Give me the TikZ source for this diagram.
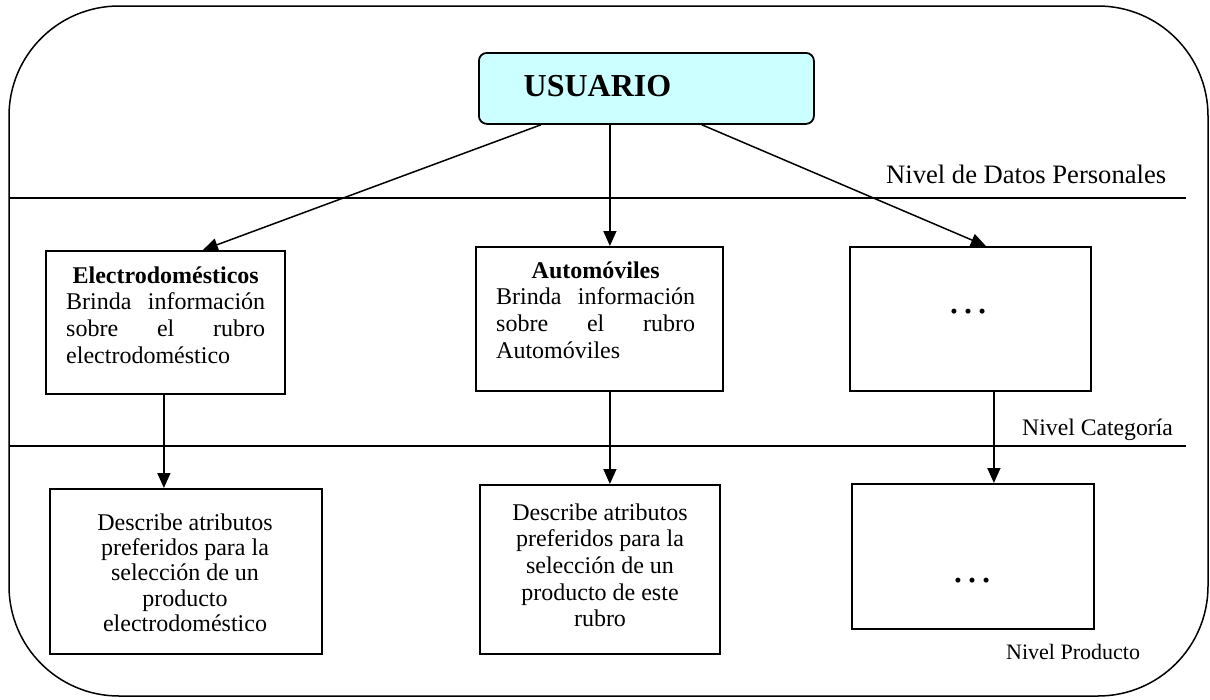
\documentclass[tikz,border=0pt]{standalone}
\usepackage{fontspec}
\setmainfont{Liberation Serif}
\usetikzlibrary{arrows.meta,calc}
\definecolor{usrcyan}{HTML}{CCFFFF}
\newcommand\jline[1]{\hbox to\hsize{#1}}
\newcommand\ctrln[1]{\hbox to\hsize{\hfil#1\hfil}}
\begin{document}
\begin{tikzpicture}[x=1pt,y=-1pt,
  box/.style={draw,line width=1.8pt,inner sep=0pt,anchor=north west},
  txt/.style={inner sep=0pt},
  arr/.style={line width=1.5pt,-{Triangle[length=15pt,width=13pt]}},
  lvl/.style={line width=1.5pt}]
\useasboundingbox (0,0) rectangle (1210,699);
% outer frame
\draw[line width=1.5pt,rounded corners=110pt] (9,6) rectangle (1208,696);
% level lines
\draw[lvl] (9,198) -- (1186,198);
\draw[lvl] (9,446) -- (1186,446);
% level labels
\node[txt,anchor=base west,font=\fontsize{26.6}{28}\selectfont] (lv1) at (886,183) {Nivel de Datos Personales};
\node[txt,anchor=base west,font=\fontsize{23.7}{26}\selectfont] (lv2) at (1022,435) {Nivel Categoría};
\node[txt,anchor=base west,font=\fontsize{22}{24}\selectfont] (lv3) at (1006,659) {Nivel Producto};
% usuario
\node[box,fill=usrcyan,rounded corners=8pt,minimum width=335pt,minimum height=71pt] (usr) at (478,52) {};
\node[txt,anchor=base,font=\fontsize{32}{34}\selectfont\bfseries] (usrt) at (597.5,96) {USUARIO};
% category boxes
\node[box,minimum width=239pt,minimum height=143pt] (e1) at (45,250) {};
\node[box,minimum width=247pt,minimum height=144pt] (a2) at (475,246) {};
\node[box,minimum width=241pt,minimum height=144pt] (a3) at (849,246) {};
% product boxes
\node[box,minimum width=272pt,minimum height=165pt] (p1) at (49,488) {};
\node[box,minimum width=240pt,minimum height=169pt] (p2) at (479,484) {};
\node[box,minimum width=242pt,minimum height=145pt] (p3) at (851,483) {};
% texts in category boxes
\node[txt,anchor=base west] (e1t) at (66,283) {\fontsize{24}{26.7}\selectfont\vtop{\hsize=199pt
  \ctrln{\bfseries Electrodomésticos}
  \jline{Brinda\hfill información}
  \jline{sobre\hfill el\hfill rubro}
  \jline{electrodoméstico\hfill}}};
\node[txt,anchor=base west] (a2t) at (496,278) {\fontsize{24}{26.7}\selectfont\vtop{\hsize=199pt
  \ctrln{\bfseries Automóviles}
  \jline{Brinda\hfill información}
  \jline{sobre\hfill el\hfill rubro}
  \jline{Automóviles\hfill}}};
\node[txt,anchor=base] (a3t) at (968,313) {\fontsize{42}{42}\selectfont …};
% texts in product boxes
\node[txt,anchor=base] (p1t) at (185,530) {\fontsize{24}{25.4}\selectfont\vtop{\hsize=250pt
  \ctrln{Describe atributos}
  \ctrln{preferidos para la}
  \ctrln{selección de un}
  \ctrln{producto}
  \ctrln{electrodoméstico}}};
\node[txt,anchor=base] (p2t) at (600,520) {\fontsize{24}{26.7}\selectfont\vtop{\hsize=230pt
  \ctrln{Describe atributos}
  \ctrln{preferidos para la}
  \ctrln{selección de un}
  \ctrln{producto de este}
  \ctrln{rubro}}};
\node[txt,anchor=base] (p3t) at (972,582) {\fontsize{42}{42}\selectfont …};
% arrows from usuario
\draw[arr] ([xshift=-105.5pt]usr.south) -- ([xshift=37.5pt]e1.north);
\draw[arr] ([xshift=-36.5pt]usr.south) -- ([xshift=10.5pt]a2.north);
\draw[arr] ([xshift=55.5pt]usr.south) -- ([xshift=15.5pt]a3.north);
% arrows to product level
\coordinate (s1) at ([xshift=-1.5pt]e1.south);
\coordinate (s2) at ([xshift=10.5pt]a2.south);
\coordinate (s3) at ([xshift=23.5pt]a3.south);
\draw[arr] (s1) -- (s1 |- p1.north);
\draw[arr] (s2) -- (s2 |- p2.north);
\draw[arr] (s3) -- (s3 |- p3.north);
\end{tikzpicture}
\end{document}
